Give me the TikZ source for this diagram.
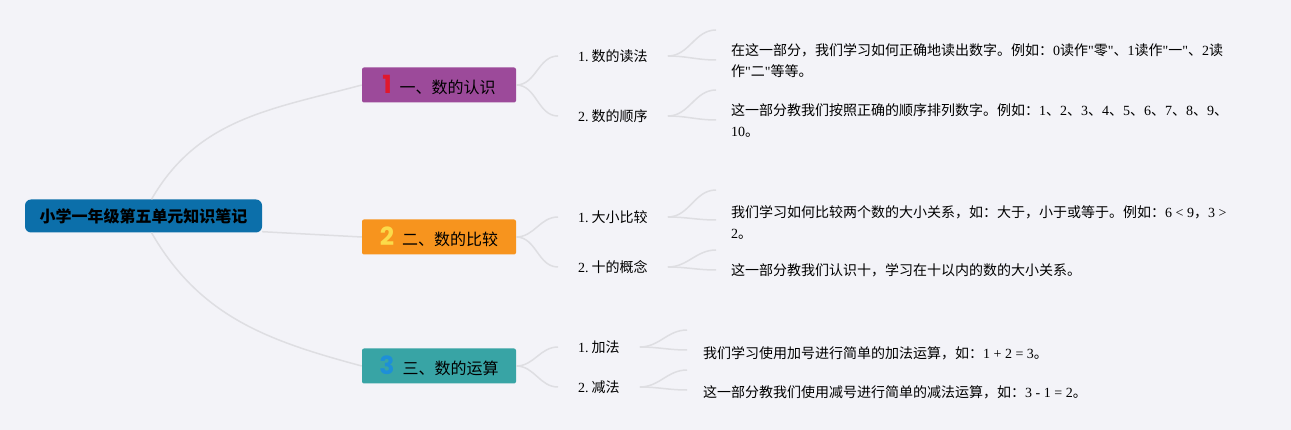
\documentclass[tikz,border=0pt]{standalone}
\usepackage{fontspec}
\setmainfont{Noto Sans CJK SC}
\newfontfamily\latfont{Liberation Serif}
\newfontfamily\numfont{Poppins}
\newcommand\lat[1]{{\latfont #1}}
\newcommand\topicnum[2]{{\numfont\bfseries\fontsize{25}{25}\selectfont\color{#1}#2}\hspace{8pt}}
\definecolor{bg}{RGB}{243,243,248}
\definecolor{linegray}{RGB}{222,222,226}
\definecolor{rootblue}{RGB}{12,111,170}
\definecolor{tpurple}{RGB}{156,74,154}
\definecolor{torange}{RGB}{247,148,30}
\definecolor{tteal}{RGB}{56,164,165}
\definecolor{nred}{RGB}{224,24,45}
\definecolor{nyellow}{RGB}{251,219,74}
\definecolor{nblue}{RGB}{30,143,216}
\begin{document}
\begin{tikzpicture}[x=1pt, y=-1pt,
        conn/.style={draw=linegray, line width=1.5pt},
        topic/.style={fill=#1, minimum width=154pt, minimum height=35pt, rounded corners=2pt, inner sep=0pt, font=\fontsize{16}{16}\selectfont},
        subitem/.style={anchor=west, inner xsep=20pt, inner ysep=0pt, font=\fontsize{14}{16}\selectfont},
        desc/.style={anchor=west, align=left, inner sep=0pt, font=\fontsize{14}{21}\selectfont}]
        \fill[bg] (0, 0) rectangle (1291, 430);
        % root and topics
        \node[fill=rootblue, minimum width=237pt, minimum height=33pt, rounded corners=6pt, font=\fontsize{16}{16}\selectfont\bfseries] (title) at (143.5, 216) {小学一年级第五单元知识笔记};
        \node[topic=tpurple] (know) at (439, 85) {\topicnum{nred}{1}一、数的认识};
        \node[topic=torange] (cmp) at (439, 237) {\topicnum{nyellow}{2}二、数的比较};
        \node[topic=tteal] (calc) at (439, 366) {\topicnum{nblue}{3}三、数的运算};
        \draw[conn] ([xshift=8pt]title.north) to[out=60, in=195] (know.west);
        \draw[conn] ([yshift=1pt]title.south east) -- (cmp.west);
        \draw[conn] ([xshift=8pt]title.south) to[out=-60, in=165] (calc.west);
        % sub items
        \node[subitem] (readway) at (558, 56) {\lat{1.}\hspace{3pt}数的读法};
        \node[subitem] (order) at (558, 116) {\lat{2.}\hspace{3pt}数的顺序};
        \node[subitem] (size) at (558, 217) {\lat{1.}\hspace{3pt}大小比较};
        \node[subitem] (ten) at (558, 267) {\lat{2.}\hspace{3pt}十的概念};
        \node[subitem] (plus) at (558, 347) {\lat{1.}\hspace{3pt}加法};
        \node[subitem] (minus) at (558, 387) {\lat{2.}\hspace{3pt}减法};
        \draw[conn] (know.east) to[out=0, in=180] (readway.west);
        \draw[conn] (know.east) to[out=0, in=180] (order.west);
        \draw[conn] (cmp.east) to[out=0, in=180] (size.west);
        \draw[conn] (cmp.east) to[out=0, in=180] (ten.west);
        \draw[conn] (calc.east) to[out=0, in=180] (plus.west);
        \draw[conn] (calc.east) to[out=0, in=180] (minus.west);
        % notes
        \node[desc] (readtxt) at (731, 61) {在这一部分，我们学习如何正确地读出数字。例如：\lat{0}读作\lat{"}零\lat{"}、\lat{1}读作\lat{"}一\lat{"}、\lat{2}读\\作\lat{"}二\lat{"}等等。};
        \node[desc] (ordertxt) at (731, 121) {这一部分教我们按照正确的顺序排列数字。例如：\lat{1}、\lat{2}、\lat{3}、\lat{4}、\lat{5}、\lat{6}、\lat{7}、\lat{8}、\lat{9}、\\\lat{10}。};
        \node[desc] (sizetxt) at (731, 222) {我们学习如何比较两个数的大小关系，如：大于，小于或等于。例如：\lat{6 < 9}，\lat{3 >}\\\lat{2}。};
        \node[desc] (tentxt) at (731, 270) {这一部分教我们认识十，学习在十以内的数的大小关系。};
        \node[desc] (plustxt) at (703, 353) {我们学习使用加号进行简单的加法运算，如：\lat{1 + 2 = 3}。};
        \node[desc] (minustxt) at (703, 392) {这一部分教我们使用减号进行简单的减法运算，如：\lat{3 - 1 = 2}。};
        \node[coordinate] (readtop) at (716, 30) {};
        \node[coordinate] (readbot) at (716, 60) {};
        \node[coordinate] (ordertop) at (716, 90) {};
        \node[coordinate] (orderbot) at (716, 120) {};
        \node[coordinate] (sizetop) at (716, 190) {};
        \node[coordinate] (sizebot) at (716, 220) {};
        \node[coordinate] (tentop) at (716, 250) {};
        \node[coordinate] (tenbot) at (716, 270) {};
        \node[coordinate] (plustop) at (687, 330) {};
        \node[coordinate] (plusbot) at (687, 350) {};
        \node[coordinate] (minustop) at (687, 370) {};
        \node[coordinate] (minusbot) at (687, 390) {};
        \draw[conn] (readway.east) to[out=0, in=180] (readtop);
        \draw[conn] (readway.east) to[out=0, in=180] (readbot);
        \draw[conn] (order.east) to[out=0, in=180] (ordertop);
        \draw[conn] (order.east) to[out=0, in=180] (orderbot);
        \draw[conn] (size.east) to[out=0, in=180] (sizetop);
        \draw[conn] (size.east) to[out=0, in=180] (sizebot);
        \draw[conn] (ten.east) to[out=0, in=180] (tentop);
        \draw[conn] (ten.east) to[out=0, in=180] (tenbot);
        \draw[conn] (plus.east) to[out=0, in=180] (plustop);
        \draw[conn] (plus.east) to[out=0, in=180] (plusbot);
        \draw[conn] (minus.east) to[out=0, in=180] (minustop);
        \draw[conn] (minus.east) to[out=0, in=180] (minusbot);
    \end{tikzpicture}
\end{document}
